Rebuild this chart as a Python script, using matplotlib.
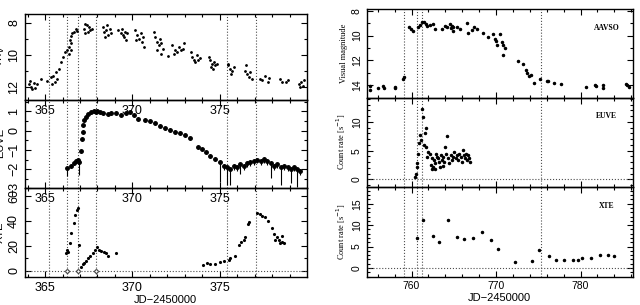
import matplotlib.pyplot as plt
from matplotlib.ticker import MultipleLocator

plt.rcParams['font.family'] = ['Liberation Sans', 'DejaVu Sans']

# ---- left: 1998 outburst (JD-2450000) ----
events_left = [365.2, 366.25, 366.9, 367.9, 375.4, 377.1]

mv_t = [364.07, 364.20, 364.35, 364.45, 364.25, 364.12, 364.55, 364.74,
        365.13, 365.32, 365.47, 365.55, 365.66, 365.42, 365.80, 365.60,
        365.90, 366.05, 366.13, 366.28, 366.38, 366.47, 366.50, 366.38,
        366.43, 366.57, 366.66, 366.76, 366.50, 366.82,
        367.24, 367.40, 367.47, 367.60, 367.30, 367.53, 367.66, 367.26,
        368.30, 368.40, 368.50, 368.59, 368.70, 368.44, 368.76, 368.55,
        369.20, 369.32, 369.40, 369.51, 369.59, 369.65, 369.45, 369.71,
        370.16, 370.28, 370.35, 370.47, 370.55, 370.67, 370.22, 370.60,
        371.24, 371.32, 371.43, 371.51, 371.57, 371.66, 371.76, 371.38, 371.62,
        372.28, 372.43, 372.53, 372.66, 372.78, 372.91, 372.40, 372.05, 372.97,
        373.36, 373.43, 373.55, 373.68, 373.78, 373.87, 373.59,
        374.36, 374.45, 374.55, 374.65, 374.74, 374.84, 374.51, 374.60,
        375.47, 375.61, 375.70, 375.80, 375.66, 375.50,
        376.44, 376.57, 376.66, 376.76, 376.82, 376.50,
        377.28, 377.44, 377.59, 377.74, 377.84,
        378.43, 378.58, 378.77, 378.92,
        379.51, 379.64, 379.74, 379.83, 379.57]
mv_mag = [11.84, 12.00, 11.77, 12.10, 12.14, 11.67, 11.84, 11.52,
          11.63, 11.42, 11.31, 11.70, 11.50, 11.84, 10.89, 11.10,
          10.47, 10.15, 9.84, 9.73, 9.52, 9.30, 9.73, 9.94,
          9.10, 8.67, 8.57, 8.42, 8.84, 8.50,
          8.36, 8.15, 8.57, 8.47, 8.67, 8.26, 8.36, 8.05,
          8.25, 8.57, 8.47, 8.78, 8.36, 8.88, 8.67, 8.15,
          8.46, 8.67, 8.36, 8.88, 8.57, 9.10, 8.78, 8.67,
          8.46, 8.78, 8.99, 8.67, 9.20, 9.52, 9.10, 8.88,
          8.57, 8.88, 9.20, 9.41, 8.99, 9.30, 9.62, 9.73, 9.94,
          9.41, 9.68, 9.83, 9.52, 9.73, 9.62, 9.94, 10.10, 9.30,
          9.84, 10.15, 10.31, 10.05, 10.36, 10.20, 10.47,
          10.15, 10.36, 10.57, 10.47, 10.68, 10.57, 10.78, 10.90,
          10.68, 10.90, 11.00, 10.78, 11.20, 10.57,
          11.00, 11.20, 11.40, 11.10, 11.54, 10.68,
          11.52, 11.62, 11.36, 11.73, 11.46,
          11.52, 11.73, 11.73, 11.62,
          11.84, 11.73, 11.94, 11.62, 12.00]

euve_t = [366.25, 366.51, 366.63, 366.76, 366.86, 366.95, 367.05, 367.10,
          367.15, 367.18, 367.24, 367.34, 367.47, 367.63, 367.78, 367.91,
          367.99, 368.16, 368.29, 368.58, 368.78, 369.07, 369.36, 369.65,
          369.84, 370.12, 370.32, 370.70, 370.99, 371.28, 371.57, 371.86,
          372.15, 372.43, 372.72, 373.00, 373.29, 373.78, 373.97, 374.20,
          374.45, 374.74, 375.03, 375.22, 375.41, 375.60, 375.80, 375.99,
          376.18, 376.37, 376.57, 376.76, 376.95, 377.15, 377.34, 377.53,
          377.72, 377.91, 378.10, 378.30, 378.49, 378.68, 378.88, 379.07,
          379.26, 379.45, 379.60]
euve_log = [-1.96, -1.82, -1.68, -1.56, -1.51, -1.61, -1.04, -0.42,
            -0.07, 0.28, 0.54, 0.72, 0.84, 0.95, 1.02, 0.95,
            1.02, 0.95, 0.89, 0.84, 0.91, 0.91, 0.82, 0.91,
            0.96, 0.82, 0.61, 0.56, 0.47, 0.38, 0.26, 0.12,
            0.03, -0.06, -0.15, -0.24, -0.41, -0.85, -0.98, -1.12,
            -1.30, -1.47, -1.65, -1.83, -1.91, -2.00, -1.83, -1.91,
            -1.74, -1.83, -1.68, -1.61, -1.56, -1.50, -1.56, -1.47,
            -1.56, -1.68, -1.83, -1.74, -1.91, -1.83, -1.91, -2.00,
            -1.91, -2.00, -2.08]
euve_err_lo = [0.4, 0.1, 0.1, 0.1, 0.1, 0.7, 0.1, 0.1,
               0.1, 0.1, 0.1, 0.1, 0.1, 0.1, 0.1, 0.1,
               0.1, 0.1, 0.1, 0.1, 0.1, 0.1, 0.1, 0.1,
               0.1, 0.1, 0.1, 0.1, 0.1, 0.1, 0.1, 0.1,
               0.1, 0.1, 0.1, 0.1, 0.1, 0.1, 0.1, 0.1,
               0.1, 0.1, 1.0, 0.2, 0.9, 0.8, 0.2, 0.2,
               0.5, 0.2, 0.2, 0.2, 0.2, 0.2, 0.2, 0.2,
               0.2, 0.8, 0.2, 0.2, 0.9, 0.2, 0.2, 0.7,
               0.2, 0.9, 0.2]

xte_t = [366.18, 366.28, 366.30, 366.41, 366.51, 366.63, 366.70, 366.82,
         366.89, 366.93, 367.05, 367.15, 367.24, 367.34, 367.47, 367.58,
         367.72, 367.86, 367.97, 368.07, 368.20, 368.36, 368.49, 368.59,
         369.07, 374.07, 374.26, 374.45, 374.74, 375.03, 375.22, 375.51,
         375.60, 375.90, 376.13, 376.24, 376.37, 376.47, 376.63, 376.70,
         377.15, 377.28, 377.44, 377.59, 377.74, 377.99, 378.13, 378.19,
         378.27, 378.38, 378.46, 378.58, 378.58, 378.65]
xte_rate = [13.9, 16.6, 15.0, 21.9, 30.0, 38.0, 44.6, 49.0,
            50.7, 20.6, 3.2, 5.0, 5.9, 7.5, 9.9, 11.5,
            13.9, 17.0, 19.2, 17.0, 16.0, 15.0, 13.9, 12.0,
            13.9, 4.5, 5.9, 5.3, 5.3, 7.2, 8.0, 8.5,
            9.9, 11.7, 20.5, 23.1, 25.0, 27.0, 37.5, 38.9,
            46.2, 45.6, 44.3, 43.0, 40.3, 34.4, 29.6, 24.3,
            27.0, 25.0, 22.4, 27.6, 23.0, 21.9]
xte_zero_t = [366.25, 366.9, 367.9]

# ---- right: 1997 outburst ----
events_right = [759.1, 760.6, 761.2, 775.3]

aavso_t = [755.09, 755.09, 756.07, 756.60, 756.75, 758.05, 758.05, 759.03, 759.10,
           759.74, 759.90, 760.14, 760.73, 761.00, 761.20, 761.48, 761.72,
           761.88, 762.19, 762.58, 762.75, 763.57, 763.96, 764.16, 764.56,
           764.63, 764.75, 764.95, 764.95, 765.35, 765.74, 766.53, 766.72,
           767.12, 767.40, 767.71, 768.50, 769.09, 769.68, 769.88, 770.00,
           770.08, 770.47, 770.67, 770.80, 770.79, 771.07, 772.64, 773.16,
           773.55, 773.63, 773.94, 774.10, 774.50, 775.20, 776.00, 776.20,
           776.90, 777.66, 780.65, 781.72, 781.83, 782.63, 782.63, 785.38,
           785.50, 785.77]
aavso_mag = [14.37, 14.10, 14.26, 14.10, 14.26, 14.18, 14.26, 13.48, 13.33,
             9.35, 9.48, 9.60, 9.29, 9.14, 8.88, 8.88, 9.08,
             9.20, 9.14, 9.08, 9.48, 9.48, 9.22, 9.35, 9.08,
             9.40, 9.22, 9.29, 9.60, 9.35, 9.48, 9.03, 9.82,
             9.55, 9.35, 9.48, 9.82, 10.08, 9.87, 10.26, 10.45,
             10.78, 9.87, 10.52, 10.78, 11.57, 11.04, 12.09, 12.27,
             12.75, 13.00, 13.27, 13.20, 13.79, 13.48, 13.66, 13.66,
             13.79, 13.92, 14.18, 14.00, 14.10, 14.26, 14.00, 13.92,
             14.00, 14.18]

reuve_t = [760.41, 760.53, 760.61, 760.69, 760.80, 760.92, 761.00, 761.08,
           761.20, 761.32, 761.48, 761.60, 761.72, 761.72, 761.87, 762.00,
           762.19, 762.27, 762.39, 762.50, 762.66, 762.78, 762.90, 763.05,
           763.17, 763.29, 763.45, 763.57, 763.76, 763.84, 763.96, 764.08,
           764.16, 764.36, 764.47, 764.63, 764.75, 764.95, 765.02, 765.27,
           765.35, 765.54, 765.66, 765.82, 765.94, 766.06, 766.22, 766.33,
           766.45, 766.61, 766.73, 766.84, 766.92, 762.39, 762.78, 763.37,
           763.76]
reuve_rate = [0.35, 0.92, 2.19, 2.77, 4.50, 6.25, 7.70, 6.83,
              12.30, 10.87, 5.96, 7.99, 8.85, 5.67, 3.92, 4.79,
              4.50, 2.48, 3.64, 2.19, 3.35, 2.77, 4.50, 3.92,
              3.64, 3.06, 4.21, 3.35, 3.92, 3.06, 5.67, 4.50,
              7.52, 3.64, 2.77, 4.21, 3.35, 3.92, 4.79, 3.64,
              4.21, 3.35, 4.50, 3.92, 3.06, 5.09, 4.21, 3.64,
              4.50, 3.35, 4.21, 3.64, 3.06, 1.90, 1.90, 2.19,
              2.30]

rxte_t = [760.61, 761.32, 762.58, 763.25, 764.28, 765.42, 766.25, 767.32,
          768.30, 769.40, 770.27, 772.25, 774.22, 775.09, 776.31, 777.06,
          778.05, 779.07, 779.74, 780.21, 781.24, 782.30, 783.20, 784.00]
rxte_rate = [7.0, 11.3, 7.56, 6.1, 11.15, 7.26, 6.8, 6.95,
             8.35, 6.63, 4.45, 1.3, 1.7, 4.3, 2.9, 1.95,
             1.95, 1.95, 1.95, 2.4, 2.4, 3.0, 2.95, 2.7]


def style(ax, xmaj, xmin, ymaj, ymin, size):
    ax.xaxis.set_major_locator(MultipleLocator(xmaj))
    ax.xaxis.set_minor_locator(MultipleLocator(xmin))
    ax.yaxis.set_major_locator(MultipleLocator(ymaj))
    ax.yaxis.set_minor_locator(MultipleLocator(ymin))
    ax.tick_params(which='both', direction='in', top=True, right=True,
                   labelsize=size, width=0.8)
    ax.tick_params(which='major', length=4)
    ax.tick_params(which='minor', length=2)
    ax.tick_params(axis='y', labelrotation=90)
    for lab in ax.get_yticklabels():
        lab.set_va('center')
    ax.patch.set_visible(False)
    for s in ax.spines.values():
        s.set_linewidth(1.0)


fig = plt.figure(figsize=(6.4, 3.05), dpi=100)
dot = dict(color='0.3', ls=':', lw=0.8)

# left column
L, W = 0.039, 0.440
ax1 = fig.add_axes([L, 0.672, W, 0.282])
ax2 = fig.add_axes([L, 0.382, W, 0.290])
ax3 = fig.add_axes([L, 0.092, W, 0.290])
for ax in (ax1, ax2, ax3):
    ax.set_xlim(363.85, 379.97)
    for e in events_left:
        ax.axvline(e, **dot)

ax1.plot(mv_t, mv_mag, 'k.', ms=2.0)
ax1.set_ylim(12.85, 7.45)
style(ax1, 5, 1, 2, 1, 9)

ax2.errorbar(euve_t, euve_log, yerr=[euve_err_lo, [0.08] * len(euve_t)],
             fmt='o', color='k', ms=2.5, elinewidth=0.8, capsize=0)
ax2.set_ylim(-3, 1.58)
style(ax2, 5, 1, 1, 0.5, 9)

ax3.axhline(0, **dot)
ax3.plot(xte_t, xte_rate, 'k.', ms=2.5)
ax3.plot(xte_zero_t, [0] * len(xte_zero_t), 'o', mfc='white', mec='k',
         ms=2.5, mew=0.6)
ax3.set_ylim(-5, 66)
style(ax3, 5, 1, 20, 10, 9)
ax3.set_xlabel('JD\u22122450000', fontsize=8, labelpad=1)

fig.text(0.0, 0.82, r'$m_v$', rotation=90, va='center', ha='center', fontsize=9)
fig.text(0.0, 0.53, 'EUVE', rotation=90, va='center', ha='center', fontsize=8)
fig.text(0.0, 0.24, 'XTE', rotation=90, va='center', ha='center', fontsize=8)

# right column
L2, W2 = 0.573, 0.416
bx1 = fig.add_axes([L2, 0.680, W2, 0.289])
bx2 = fig.add_axes([L2, 0.387, W2, 0.293])
bx3 = fig.add_axes([L2, 0.093, W2, 0.294])
for ax in (bx1, bx2, bx3):
    ax.set_xlim(754.7, 786.2)
    for e in events_right:
        ax.axvline(e, **dot)

bx1.plot(aavso_t, aavso_mag, 'k.', ms=3)
bx1.set_ylim(15.0, 7.9)
style(bx1, 10, 2, 2, 1, 7.5)
bx1.set_ylabel('Visual magnitude', fontsize=6, family='Liberation Serif', labelpad=3)

bx2.axhline(0, **dot)
bx2.plot(reuve_t, reuve_rate, 'k.', ms=3)
bx2.set_ylim(-1.3, 14.2)
style(bx2, 10, 2, 5, 1, 7.5)
bx2.set_ylabel(r'Count rate [s$^{-1}$]', fontsize=6, family='Liberation Serif', labelpad=3)

bx3.axhline(0, **dot)
bx3.plot(rxte_t, rxte_rate, 'k.', ms=3)
bx3.set_ylim(-2, 18.9)
style(bx3, 10, 2, 5, 1, 7.5)
bx3.set_ylabel(r'Count rate [s$^{-1}$]', fontsize=6, family='Liberation Serif', labelpad=3)
bx3.set_xlabel('JD\u22122450000', fontsize=8, labelpad=1)

for ax in (bx1, bx2):
    ax.tick_params(axis='x', labelbottom=False)
for ax, name in ((bx1, 'AAVSO'), (bx2, 'EUVE'), (bx3, 'XTE')):
    ax.text(0.9, 0.79, name, transform=ax.transAxes, ha='center', va='center',
            fontsize=5.5, family='Liberation Serif', weight='bold')

fig.savefig('out.png', dpi=100)
